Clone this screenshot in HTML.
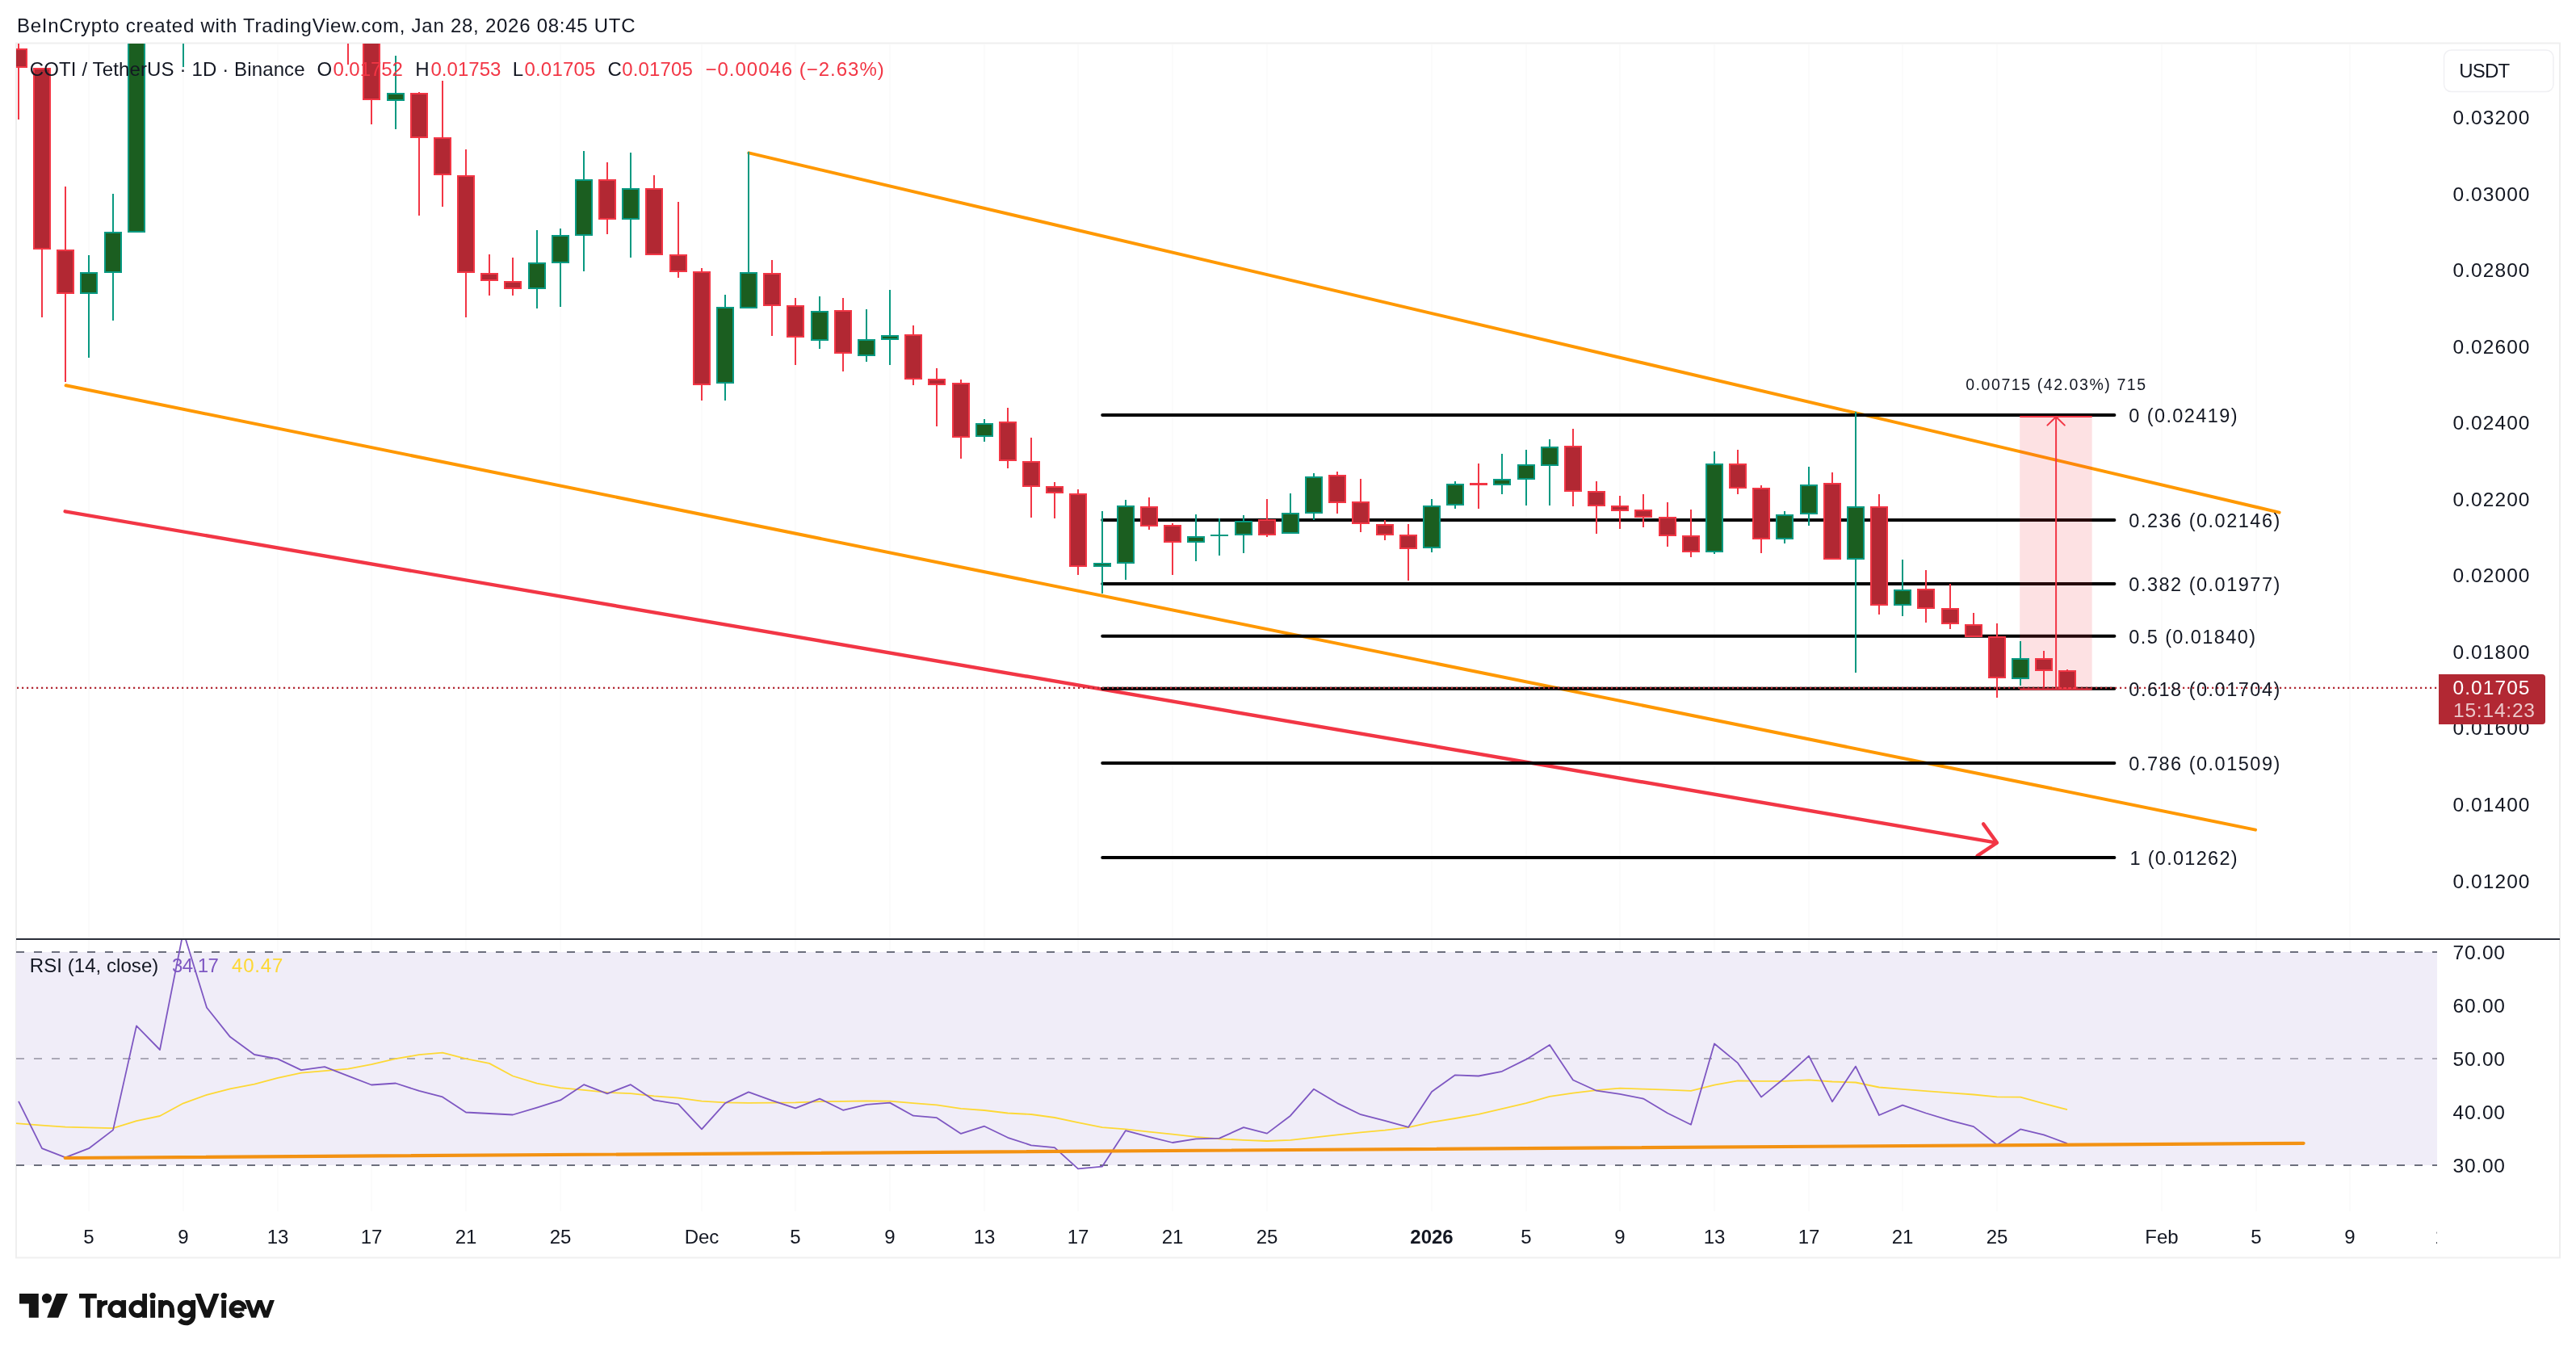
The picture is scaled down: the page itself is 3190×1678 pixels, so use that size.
<!DOCTYPE html>
<html><head><meta charset="utf-8"><title>COTI chart</title>
<style>
html,body{margin:0;padding:0;background:#fff;}
body{width:3190px;height:1678px;overflow:hidden;font-family:"Liberation Sans",sans-serif;}
svg{display:block;will-change:transform;transform:translateZ(0)}
svg text{font-family:"Liberation Sans",sans-serif;white-space:pre}
</style></head><body>
<svg width="3190" height="1678" viewBox="0 0 3190 1678">
<defs>
<clipPath id="main"><rect x="20" y="54" width="2998" height="1108"/></clipPath>
<clipPath id="rsi"><rect x="20" y="1164" width="2998" height="336"/></clipPath>
<clipPath id="taxis"><rect x="20" y="1500" width="2998" height="58"/></clipPath>
</defs>
<rect width="3190" height="1678" fill="#ffffff"/>
<rect x="20" y="53.5" width="3150" height="1504" fill="none" stroke="#efefef" stroke-width="2"/>
<g stroke="#fafafa" stroke-width="1.4">
<line x1="110.0" y1="55" x2="110.0" y2="1500"/>
<line x1="227.0" y1="55" x2="227.0" y2="1500"/>
<line x1="344.0" y1="55" x2="344.0" y2="1500"/>
<line x1="460.0" y1="55" x2="460.0" y2="1500"/>
<line x1="577.0" y1="55" x2="577.0" y2="1500"/>
<line x1="694.0" y1="55" x2="694.0" y2="1500"/>
<line x1="869.0" y1="55" x2="869.0" y2="1500"/>
<line x1="985.0" y1="55" x2="985.0" y2="1500"/>
<line x1="1102.0" y1="55" x2="1102.0" y2="1500"/>
<line x1="1219.0" y1="55" x2="1219.0" y2="1500"/>
<line x1="1335.0" y1="55" x2="1335.0" y2="1500"/>
<line x1="1452.0" y1="55" x2="1452.0" y2="1500"/>
<line x1="1569.0" y1="55" x2="1569.0" y2="1500"/>
<line x1="1773.0" y1="55" x2="1773.0" y2="1500"/>
<line x1="1890.0" y1="55" x2="1890.0" y2="1500"/>
<line x1="2006.0" y1="55" x2="2006.0" y2="1500"/>
<line x1="2123.0" y1="55" x2="2123.0" y2="1500"/>
<line x1="2240.0" y1="55" x2="2240.0" y2="1500"/>
<line x1="2356.0" y1="55" x2="2356.0" y2="1500"/>
<line x1="2473.0" y1="55" x2="2473.0" y2="1500"/>
<line x1="2677.0" y1="55" x2="2677.0" y2="1500"/>
<line x1="2794.0" y1="55" x2="2794.0" y2="1500"/>
<line x1="2910.0" y1="55" x2="2910.0" y2="1500"/>
</g>
<rect x="20" y="1179" width="2998" height="264" fill="#f0edf8"/>
<g stroke-width="2" stroke-dasharray="10 12" fill="none">
<line x1="20" y1="1179" x2="3018" y2="1179" stroke="#6c6f7d"/>
<line x1="20" y1="1311" x2="3018" y2="1311" stroke="#aaa8b6"/>
<line x1="20" y1="1443" x2="3018" y2="1443" stroke="#6c6f7d"/>
</g>
<g clip-path="url(#rsi)" fill="none" stroke-linejoin="round">
<polyline points="20,1391.2 23.0,1391.4 52.0,1393.7 81.0,1395.6 110.0,1396.4 140.0,1397.1 169.0,1388.2 198.0,1382 227.0,1366.3 256.0,1355.9 285.0,1348.4 315.0,1342.7 344.0,1334.8 373.0,1328.6 402.0,1326.1 431.0,1323.6 460.0,1318.1 490.0,1311.2 519.0,1306.2 548.0,1303.7 577.0,1311.2 606.0,1316.9 635.0,1332.5 665.0,1341.7 694.0,1347.2 723.0,1349.9 752.0,1352.9 781.0,1354.2 810.0,1357.4 840.0,1359.6 869.0,1363.6 898.0,1365.3 927.0,1365.8 956.0,1365.6 985.0,1365.3 1015.0,1364.1 1044.0,1363.9 1073.0,1363.4 1102.0,1363.6 1131.0,1366.1 1160.0,1368.3 1190.0,1372.8 1219.0,1375 1248.0,1378.5 1277.0,1380 1306.0,1384 1335.0,1390.2 1365.0,1396.1 1394.0,1398.4 1423.0,1401.6 1452.0,1404.6 1481.0,1407.8 1510.0,1410.3 1540.0,1411.8 1569.0,1413 1598.0,1411.8 1627.0,1408.6 1656.0,1405.3 1685.0,1402.4 1715.0,1399.6 1744.0,1396.1 1773.0,1389.7 1802.0,1385 1831.0,1379.8 1860.0,1373.2 1890.0,1366.1 1919.0,1357.9 1948.0,1353.7 1977.0,1350.2 2006.0,1347.7 2035.0,1348.7 2065.0,1349.7 2094.0,1350.9 2123.0,1343.7 2152.0,1338.3 2181.0,1338.8 2210.0,1338.8 2240.0,1337.3 2269.0,1339.5 2298.0,1340.5 2327.0,1346.5 2356.0,1348.9 2385.0,1351.2 2415.0,1353.4 2444.0,1355.5 2473.0,1358.4 2502.0,1358.7 2531.0,1366.6 2560.0,1374.2" stroke="#fdd835" stroke-width="1.8"/>
<polyline points="23.0,1363.9 52.0,1422.2 81.0,1433.4 110.0,1422.2 140.0,1399.4 169.0,1270.4 198.0,1300 227.0,1153.7 256.0,1247.8 285.0,1284.1 315.0,1306 344.0,1311.4 373.0,1325.1 402.0,1321.1 431.0,1332.3 460.0,1343.5 490.0,1341.5 519.0,1350.9 548.0,1358.4 577.0,1377.5 606.0,1379 635.0,1380.5 665.0,1371.6 694.0,1362.4 723.0,1343.2 752.0,1354.4 781.0,1343.2 810.0,1362.4 840.0,1367.3 869.0,1398.4 898.0,1366.1 927.0,1352.4 956.0,1362.9 985.0,1372.3 1015.0,1360.6 1044.0,1374.8 1073.0,1367.8 1102.0,1365.6 1131.0,1381.7 1160.0,1384.2 1190.0,1403.9 1219.0,1394.7 1248.0,1408.8 1277.0,1418.3 1306.0,1421.2 1335.0,1447.3 1365.0,1444.6 1394.0,1400.1 1423.0,1407.8 1452.0,1415 1481.0,1410.3 1510.0,1409.6 1540.0,1396.1 1569.0,1403.6 1598.0,1381.7 1627.0,1348.7 1656.0,1366.1 1685.0,1380.2 1715.0,1387.9 1744.0,1395.9 1773.0,1351.9 1802.0,1331.3 1831.0,1332.5 1860.0,1326.8 1890.0,1311.9 1919.0,1294 1948.0,1337.5 1977.0,1350.7 2006.0,1354.9 2035.0,1360.6 2065.0,1378.5 2094.0,1392.7 2123.0,1292.5 2152.0,1316.4 2181.0,1358.6 2210.0,1335 2240.0,1307.7 2269.0,1364.3 2298.0,1320.6 2327.0,1381 2356.0,1368.6 2385.0,1378.5 2415.0,1387.7 2444.0,1395.1 2473.0,1417.8 2502.0,1398.4 2531.0,1405.3 2560.0,1416.1" stroke="#7e57c2" stroke-width="1.8"/>
<line x1="80.7" y1="1434" x2="2852.6" y2="1415.8" stroke="#f39213" stroke-width="4.2" stroke-linecap="round"/>
</g>
<rect x="20" y="1162" width="3150" height="2" fill="#2a2e39"/>
<g clip-path="url(#main)">
<g stroke="#ff9800" stroke-width="4" stroke-linecap="round" fill="none">
<line x1="927.3" y1="189.4" x2="2822.6" y2="634.6"/>
<line x1="81.6" y1="477.3" x2="2793" y2="1027.6"/>
</g>
<g stroke="#f23645" stroke-width="4.4" stroke-linecap="round" stroke-linejoin="round" fill="none">
<line x1="80.6" y1="633.3" x2="2472.4" y2="1043.6"/>
<polyline points="2456.1,1020.4 2472.9,1043.6 2448.6,1059.8"/>
</g>
<g stroke="#000000" stroke-width="4" stroke-linecap="round">
<line x1="1365.2" y1="514" x2="2618.4" y2="514"/>
<line x1="1365.2" y1="644" x2="2618.4" y2="644"/>
<line x1="1365.2" y1="722.9" x2="2618.4" y2="722.9"/>
<line x1="1365.2" y1="787.8" x2="2618.4" y2="787.8"/>
<line x1="1365.2" y1="852.8" x2="2618.4" y2="852.8"/>
<line x1="1365.2" y1="945" x2="2618.4" y2="945"/>
<line x1="1365.2" y1="1061.9" x2="2618.4" y2="1061.9"/>
</g>
<rect x="2501.2" y="515" width="89.5" height="339" fill="#f23645" fill-opacity="0.15"/>
<g stroke="#f23645" stroke-width="2" fill="none">
<line x1="2501.2" y1="516" x2="2590.7" y2="516"/>
<line x1="2501.2" y1="853.6" x2="2590.7" y2="853.6"/>
<line x1="2546.1" y1="516" x2="2546.1" y2="853.6"/>
<polyline points="2535.4,526.6 2546.1,516.2 2556.8,526.6" stroke-linecap="round"/>
</g>
<g shape-rendering="crispEdges">
<rect x="22" y="40" width="2" height="108" fill="#f23645"/>
<rect x="12" y="60" width="22" height="24" fill="#f23645"/>
<rect x="14" y="62" width="18" height="20" fill="#b22833"/>
<rect x="51" y="84" width="2" height="309" fill="#f23645"/>
<rect x="41" y="84" width="22" height="225" fill="#f23645"/>
<rect x="43" y="86" width="18" height="221" fill="#b22833"/>
<rect x="80" y="231" width="2" height="242" fill="#f23645"/>
<rect x="70" y="309" width="22" height="55" fill="#f23645"/>
<rect x="72" y="311" width="18" height="51" fill="#b22833"/>
<rect x="109" y="316" width="2" height="127" fill="#089981"/>
<rect x="99" y="337" width="22" height="27" fill="#089981"/>
<rect x="101" y="339" width="18" height="23" fill="#1b5e20"/>
<rect x="139" y="240" width="2" height="157" fill="#089981"/>
<rect x="129" y="287" width="22" height="51" fill="#089981"/>
<rect x="131" y="289" width="18" height="47" fill="#1b5e20"/>
<rect x="168" y="20" width="2" height="268" fill="#089981"/>
<rect x="158" y="20" width="22" height="268" fill="#089981"/>
<rect x="160" y="22" width="18" height="264" fill="#1b5e20"/>
<rect x="226" y="20" width="2" height="63" fill="#089981"/>
<rect x="216" y="20" width="22" height="20" fill="#089981"/>
<rect x="218" y="22" width="18" height="16" fill="#1b5e20"/>
<rect x="430" y="20" width="2" height="60" fill="#f23645"/>
<rect x="420" y="20" width="22" height="20" fill="#f23645"/>
<rect x="422" y="22" width="18" height="16" fill="#b22833"/>
<rect x="459" y="20" width="2" height="134" fill="#f23645"/>
<rect x="449" y="20" width="22" height="104" fill="#f23645"/>
<rect x="451" y="22" width="18" height="100" fill="#b22833"/>
<rect x="489" y="69" width="2" height="91" fill="#089981"/>
<rect x="479" y="115" width="22" height="10" fill="#089981"/>
<rect x="481" y="117" width="18" height="6" fill="#1b5e20"/>
<rect x="518" y="114" width="2" height="153" fill="#f23645"/>
<rect x="508" y="115" width="22" height="56" fill="#f23645"/>
<rect x="510" y="117" width="18" height="52" fill="#b22833"/>
<rect x="547" y="100" width="2" height="156" fill="#f23645"/>
<rect x="537" y="170" width="22" height="47" fill="#f23645"/>
<rect x="539" y="172" width="18" height="43" fill="#b22833"/>
<rect x="576" y="185" width="2" height="208" fill="#f23645"/>
<rect x="566" y="217" width="22" height="121" fill="#f23645"/>
<rect x="568" y="219" width="18" height="117" fill="#b22833"/>
<rect x="605" y="315" width="2" height="51" fill="#f23645"/>
<rect x="595" y="338" width="22" height="10" fill="#f23645"/>
<rect x="597" y="340" width="18" height="6" fill="#b22833"/>
<rect x="634" y="319" width="2" height="47" fill="#f23645"/>
<rect x="624" y="348" width="22" height="10" fill="#f23645"/>
<rect x="626" y="350" width="18" height="6" fill="#b22833"/>
<rect x="664" y="285" width="2" height="97" fill="#089981"/>
<rect x="654" y="325" width="22" height="33" fill="#089981"/>
<rect x="656" y="327" width="18" height="29" fill="#1b5e20"/>
<rect x="693" y="283" width="2" height="97" fill="#089981"/>
<rect x="683" y="291" width="22" height="35" fill="#089981"/>
<rect x="685" y="293" width="18" height="31" fill="#1b5e20"/>
<rect x="722" y="187" width="2" height="149" fill="#089981"/>
<rect x="712" y="222" width="22" height="70" fill="#089981"/>
<rect x="714" y="224" width="18" height="66" fill="#1b5e20"/>
<rect x="751" y="201" width="2" height="89" fill="#f23645"/>
<rect x="741" y="222" width="22" height="50" fill="#f23645"/>
<rect x="743" y="224" width="18" height="46" fill="#b22833"/>
<rect x="780" y="189" width="2" height="130" fill="#089981"/>
<rect x="770" y="233" width="22" height="39" fill="#089981"/>
<rect x="772" y="235" width="18" height="35" fill="#1b5e20"/>
<rect x="809" y="217" width="2" height="99" fill="#f23645"/>
<rect x="799" y="233" width="22" height="83" fill="#f23645"/>
<rect x="801" y="235" width="18" height="79" fill="#b22833"/>
<rect x="839" y="250" width="2" height="94" fill="#f23645"/>
<rect x="829" y="315" width="22" height="22" fill="#f23645"/>
<rect x="831" y="317" width="18" height="18" fill="#b22833"/>
<rect x="868" y="332" width="2" height="164" fill="#f23645"/>
<rect x="858" y="336" width="22" height="141" fill="#f23645"/>
<rect x="860" y="338" width="18" height="137" fill="#b22833"/>
<rect x="897" y="365" width="2" height="131" fill="#089981"/>
<rect x="887" y="380" width="22" height="95" fill="#089981"/>
<rect x="889" y="382" width="18" height="91" fill="#1b5e20"/>
<rect x="926" y="188" width="2" height="194" fill="#089981"/>
<rect x="916" y="337" width="22" height="45" fill="#089981"/>
<rect x="918" y="339" width="18" height="41" fill="#1b5e20"/>
<rect x="955" y="322" width="2" height="94" fill="#f23645"/>
<rect x="945" y="338" width="22" height="41" fill="#f23645"/>
<rect x="947" y="340" width="18" height="37" fill="#b22833"/>
<rect x="984" y="369" width="2" height="83" fill="#f23645"/>
<rect x="974" y="378" width="22" height="40" fill="#f23645"/>
<rect x="976" y="380" width="18" height="36" fill="#b22833"/>
<rect x="1014" y="367" width="2" height="65" fill="#089981"/>
<rect x="1004" y="385" width="22" height="37" fill="#089981"/>
<rect x="1006" y="387" width="18" height="33" fill="#1b5e20"/>
<rect x="1043" y="369" width="2" height="91" fill="#f23645"/>
<rect x="1033" y="384" width="22" height="54" fill="#f23645"/>
<rect x="1035" y="386" width="18" height="50" fill="#b22833"/>
<rect x="1072" y="383" width="2" height="65" fill="#089981"/>
<rect x="1062" y="420" width="22" height="21" fill="#089981"/>
<rect x="1064" y="422" width="18" height="17" fill="#1b5e20"/>
<rect x="1101" y="359" width="2" height="93" fill="#089981"/>
<rect x="1091" y="415" width="22" height="6" fill="#089981"/>
<rect x="1093" y="417" width="18" height="2" fill="#1b5e20"/>
<rect x="1130" y="403" width="2" height="74" fill="#f23645"/>
<rect x="1120" y="414" width="22" height="56" fill="#f23645"/>
<rect x="1122" y="416" width="18" height="52" fill="#b22833"/>
<rect x="1159" y="456" width="2" height="72" fill="#f23645"/>
<rect x="1149" y="469" width="22" height="8" fill="#f23645"/>
<rect x="1151" y="471" width="18" height="4" fill="#b22833"/>
<rect x="1189" y="470" width="2" height="98" fill="#f23645"/>
<rect x="1179" y="474" width="22" height="68" fill="#f23645"/>
<rect x="1181" y="476" width="18" height="64" fill="#b22833"/>
<rect x="1218" y="519" width="2" height="28" fill="#089981"/>
<rect x="1208" y="524" width="22" height="17" fill="#089981"/>
<rect x="1210" y="526" width="18" height="13" fill="#1b5e20"/>
<rect x="1247" y="505" width="2" height="75" fill="#f23645"/>
<rect x="1237" y="522" width="22" height="49" fill="#f23645"/>
<rect x="1239" y="524" width="18" height="45" fill="#b22833"/>
<rect x="1276" y="542" width="2" height="99" fill="#f23645"/>
<rect x="1266" y="571" width="22" height="32" fill="#f23645"/>
<rect x="1268" y="573" width="18" height="28" fill="#b22833"/>
<rect x="1305" y="597" width="2" height="45" fill="#f23645"/>
<rect x="1295" y="602" width="22" height="9" fill="#f23645"/>
<rect x="1297" y="604" width="18" height="5" fill="#b22833"/>
<rect x="1334" y="606" width="2" height="106" fill="#f23645"/>
<rect x="1324" y="611" width="22" height="91" fill="#f23645"/>
<rect x="1326" y="613" width="18" height="87" fill="#b22833"/>
<rect x="1364" y="633" width="2" height="102" fill="#089981"/>
<rect x="1354" y="697" width="22" height="5" fill="#089981"/>
<rect x="1356" y="699" width="18" height="1" fill="#1b5e20"/>
<rect x="1393" y="619" width="2" height="99" fill="#089981"/>
<rect x="1383" y="626" width="22" height="72" fill="#089981"/>
<rect x="1385" y="628" width="18" height="68" fill="#1b5e20"/>
<rect x="1422" y="616" width="2" height="40" fill="#f23645"/>
<rect x="1412" y="627" width="22" height="25" fill="#f23645"/>
<rect x="1414" y="629" width="18" height="21" fill="#b22833"/>
<rect x="1451" y="648" width="2" height="64" fill="#f23645"/>
<rect x="1441" y="650" width="22" height="22" fill="#f23645"/>
<rect x="1443" y="652" width="18" height="18" fill="#b22833"/>
<rect x="1480" y="637" width="2" height="58" fill="#089981"/>
<rect x="1470" y="664" width="22" height="8" fill="#089981"/>
<rect x="1472" y="666" width="18" height="4" fill="#1b5e20"/>
<rect x="1509" y="642" width="2" height="46" fill="#089981"/>
<rect x="1499" y="662" width="22" height="2" fill="#089981"/>
<rect x="1539" y="638" width="2" height="47" fill="#089981"/>
<rect x="1529" y="645" width="22" height="18" fill="#089981"/>
<rect x="1531" y="647" width="18" height="14" fill="#1b5e20"/>
<rect x="1568" y="618" width="2" height="47" fill="#f23645"/>
<rect x="1558" y="643" width="22" height="20" fill="#f23645"/>
<rect x="1560" y="645" width="18" height="16" fill="#b22833"/>
<rect x="1597" y="611" width="2" height="50" fill="#089981"/>
<rect x="1587" y="635" width="22" height="26" fill="#089981"/>
<rect x="1589" y="637" width="18" height="22" fill="#1b5e20"/>
<rect x="1626" y="586" width="2" height="58" fill="#089981"/>
<rect x="1616" y="590" width="22" height="46" fill="#089981"/>
<rect x="1618" y="592" width="18" height="42" fill="#1b5e20"/>
<rect x="1655" y="584" width="2" height="52" fill="#f23645"/>
<rect x="1645" y="588" width="22" height="35" fill="#f23645"/>
<rect x="1647" y="590" width="18" height="31" fill="#b22833"/>
<rect x="1684" y="593" width="2" height="66" fill="#f23645"/>
<rect x="1674" y="621" width="22" height="28" fill="#f23645"/>
<rect x="1676" y="623" width="18" height="24" fill="#b22833"/>
<rect x="1714" y="644" width="2" height="25" fill="#f23645"/>
<rect x="1704" y="649" width="22" height="14" fill="#f23645"/>
<rect x="1706" y="651" width="18" height="10" fill="#b22833"/>
<rect x="1743" y="649" width="2" height="70" fill="#f23645"/>
<rect x="1733" y="662" width="22" height="18" fill="#f23645"/>
<rect x="1735" y="664" width="18" height="14" fill="#b22833"/>
<rect x="1772" y="618" width="2" height="66" fill="#089981"/>
<rect x="1762" y="626" width="22" height="53" fill="#089981"/>
<rect x="1764" y="628" width="18" height="49" fill="#1b5e20"/>
<rect x="1801" y="596" width="2" height="34" fill="#089981"/>
<rect x="1791" y="599" width="22" height="27" fill="#089981"/>
<rect x="1793" y="601" width="18" height="23" fill="#1b5e20"/>
<rect x="1830" y="574" width="2" height="56" fill="#f23645"/>
<rect x="1820" y="598" width="22" height="3" fill="#f23645"/>
<rect x="1859" y="562" width="2" height="50" fill="#089981"/>
<rect x="1849" y="593" width="22" height="8" fill="#089981"/>
<rect x="1851" y="595" width="18" height="4" fill="#1b5e20"/>
<rect x="1889" y="557" width="2" height="69" fill="#089981"/>
<rect x="1879" y="575" width="22" height="19" fill="#089981"/>
<rect x="1881" y="577" width="18" height="15" fill="#1b5e20"/>
<rect x="1918" y="544" width="2" height="82" fill="#089981"/>
<rect x="1908" y="553" width="22" height="24" fill="#089981"/>
<rect x="1910" y="555" width="18" height="20" fill="#1b5e20"/>
<rect x="1947" y="531" width="2" height="96" fill="#f23645"/>
<rect x="1937" y="552" width="22" height="57" fill="#f23645"/>
<rect x="1939" y="554" width="18" height="53" fill="#b22833"/>
<rect x="1976" y="596" width="2" height="65" fill="#f23645"/>
<rect x="1966" y="608" width="22" height="19" fill="#f23645"/>
<rect x="1968" y="610" width="18" height="15" fill="#b22833"/>
<rect x="2005" y="614" width="2" height="41" fill="#f23645"/>
<rect x="1995" y="626" width="22" height="7" fill="#f23645"/>
<rect x="1997" y="628" width="18" height="3" fill="#b22833"/>
<rect x="2034" y="612" width="2" height="41" fill="#f23645"/>
<rect x="2024" y="631" width="22" height="10" fill="#f23645"/>
<rect x="2026" y="633" width="18" height="6" fill="#b22833"/>
<rect x="2064" y="622" width="2" height="55" fill="#f23645"/>
<rect x="2054" y="640" width="22" height="24" fill="#f23645"/>
<rect x="2056" y="642" width="18" height="20" fill="#b22833"/>
<rect x="2093" y="631" width="2" height="59" fill="#f23645"/>
<rect x="2083" y="663" width="22" height="21" fill="#f23645"/>
<rect x="2085" y="665" width="18" height="17" fill="#b22833"/>
<rect x="2122" y="559" width="2" height="127" fill="#089981"/>
<rect x="2112" y="574" width="22" height="110" fill="#089981"/>
<rect x="2114" y="576" width="18" height="106" fill="#1b5e20"/>
<rect x="2151" y="557" width="2" height="55" fill="#f23645"/>
<rect x="2141" y="574" width="22" height="31" fill="#f23645"/>
<rect x="2143" y="576" width="18" height="27" fill="#b22833"/>
<rect x="2180" y="601" width="2" height="84" fill="#f23645"/>
<rect x="2170" y="604" width="22" height="64" fill="#f23645"/>
<rect x="2172" y="606" width="18" height="60" fill="#b22833"/>
<rect x="2209" y="633" width="2" height="40" fill="#089981"/>
<rect x="2199" y="637" width="22" height="31" fill="#089981"/>
<rect x="2201" y="639" width="18" height="27" fill="#1b5e20"/>
<rect x="2239" y="578" width="2" height="73" fill="#089981"/>
<rect x="2229" y="600" width="22" height="37" fill="#089981"/>
<rect x="2231" y="602" width="18" height="33" fill="#1b5e20"/>
<rect x="2268" y="585" width="2" height="108" fill="#f23645"/>
<rect x="2258" y="598" width="22" height="95" fill="#f23645"/>
<rect x="2260" y="600" width="18" height="91" fill="#b22833"/>
<rect x="2297" y="510" width="2" height="323" fill="#089981"/>
<rect x="2287" y="627" width="22" height="66" fill="#089981"/>
<rect x="2289" y="629" width="18" height="62" fill="#1b5e20"/>
<rect x="2326" y="612" width="2" height="149" fill="#f23645"/>
<rect x="2316" y="627" width="22" height="123" fill="#f23645"/>
<rect x="2318" y="629" width="18" height="119" fill="#b22833"/>
<rect x="2355" y="693" width="2" height="70" fill="#089981"/>
<rect x="2345" y="730" width="22" height="20" fill="#089981"/>
<rect x="2347" y="732" width="18" height="16" fill="#1b5e20"/>
<rect x="2384" y="706" width="2" height="65" fill="#f23645"/>
<rect x="2374" y="729" width="22" height="25" fill="#f23645"/>
<rect x="2376" y="731" width="18" height="21" fill="#b22833"/>
<rect x="2414" y="723" width="2" height="56" fill="#f23645"/>
<rect x="2404" y="753" width="22" height="20" fill="#f23645"/>
<rect x="2406" y="755" width="18" height="16" fill="#b22833"/>
<rect x="2443" y="759" width="2" height="30" fill="#f23645"/>
<rect x="2433" y="773" width="22" height="16" fill="#f23645"/>
<rect x="2435" y="775" width="18" height="12" fill="#b22833"/>
<rect x="2472" y="772" width="2" height="92" fill="#f23645"/>
<rect x="2462" y="788" width="22" height="52" fill="#f23645"/>
<rect x="2464" y="790" width="18" height="48" fill="#b22833"/>
<rect x="2501" y="794" width="2" height="55" fill="#089981"/>
<rect x="2491" y="815" width="22" height="26" fill="#089981"/>
<rect x="2493" y="817" width="18" height="22" fill="#1b5e20"/>
<rect x="2530" y="806" width="2" height="46" fill="#f23645"/>
<rect x="2520" y="815" width="22" height="16" fill="#f23645"/>
<rect x="2522" y="817" width="18" height="12" fill="#b22833"/>
<rect x="2559" y="829" width="2" height="24" fill="#f23645"/>
<rect x="2549" y="830" width="22" height="23" fill="#f23645"/>
<rect x="2551" y="832" width="18" height="19" fill="#b22833"/>
</g>
</g>
<line x1="21" y1="851.8" x2="3018" y2="851.8" stroke="#b22833" stroke-width="2.2" stroke-dasharray="2.2 3.8"/>
<text x="2434.2" y="483.3" font-size="19.5" fill="#131722" textLength="222.9" lengthAdjust="spacing" >0.00715 (42.03%) 715</text>
<text x="2636.3" y="523.0" font-size="23.5" fill="#131722" textLength="134.3" lengthAdjust="spacing" >0 (0.02419)</text>
<text x="2636.3" y="653.0" font-size="23.5" fill="#131722" textLength="187" lengthAdjust="spacing" >0.236 (0.02146)</text>
<text x="2636.3" y="731.9" font-size="23.5" fill="#131722" textLength="187" lengthAdjust="spacing" >0.382 (0.01977)</text>
<text x="2636.3" y="796.8" font-size="23.5" fill="#131722" textLength="156.7" lengthAdjust="spacing" >0.5 (0.01840)</text>
<text x="2636.3" y="861.8" font-size="23.5" fill="#131722" textLength="187" lengthAdjust="spacing" >0.618 (0.01704)</text>
<text x="2636.3" y="954.0" font-size="23.5" fill="#131722" textLength="187" lengthAdjust="spacing" >0.786 (0.01509)</text>
<text x="2637.6" y="1070.9" font-size="23.5" fill="#131722" textLength="133" lengthAdjust="spacing" >1 (0.01262)</text>
<text x="3037.5" y="154.0" font-size="24.5" fill="#131722" textLength="95" lengthAdjust="spacing" >0.03200</text>
<text x="3037.5" y="248.5" font-size="24.5" fill="#131722" textLength="95" lengthAdjust="spacing" >0.03000</text>
<text x="3037.5" y="343.1" font-size="24.5" fill="#131722" textLength="95" lengthAdjust="spacing" >0.02800</text>
<text x="3037.5" y="437.6" font-size="24.5" fill="#131722" textLength="95" lengthAdjust="spacing" >0.02600</text>
<text x="3037.5" y="532.2" font-size="24.5" fill="#131722" textLength="95" lengthAdjust="spacing" >0.02400</text>
<text x="3037.5" y="626.8" font-size="24.5" fill="#131722" textLength="95" lengthAdjust="spacing" >0.02200</text>
<text x="3037.5" y="721.3" font-size="24.5" fill="#131722" textLength="95" lengthAdjust="spacing" >0.02000</text>
<text x="3037.5" y="815.9" font-size="24.5" fill="#131722" textLength="95" lengthAdjust="spacing" >0.01800</text>
<text x="3037.5" y="910.4" font-size="24.5" fill="#131722" textLength="95" lengthAdjust="spacing" >0.01600</text>
<text x="3037.5" y="1004.9" font-size="24.5" fill="#131722" textLength="95" lengthAdjust="spacing" >0.01400</text>
<text x="3037.5" y="1099.5" font-size="24.5" fill="#131722" textLength="95" lengthAdjust="spacing" >0.01200</text>
<text x="3037.5" y="1188.4" font-size="24.5" fill="#131722" textLength="64.5" lengthAdjust="spacing" >70.00</text>
<text x="3037.5" y="1254.4" font-size="24.5" fill="#131722" textLength="64.5" lengthAdjust="spacing" >60.00</text>
<text x="3037.5" y="1320.3" font-size="24.5" fill="#131722" textLength="64.5" lengthAdjust="spacing" >50.00</text>
<text x="3037.5" y="1386.2" font-size="24.5" fill="#131722" textLength="64.5" lengthAdjust="spacing" >40.00</text>
<text x="3037.5" y="1452.2" font-size="24.5" fill="#131722" textLength="64.5" lengthAdjust="spacing" >30.00</text>
<rect x="3026.5" y="62" width="135.5" height="51.5" rx="9" ry="9" fill="#ffffff" stroke="#f0f0f3" stroke-width="1.5"/>
<text x="3045.2" y="96.4" font-size="24" fill="#131722" textLength="63" lengthAdjust="spacing" >USDT</text>
<path d="M3020,835 H3148 a4,4 0 0 1 4,4 V893 a4,4 0 0 1 -4,4 H3020 Z" fill="#b22833"/>
<text x="3037.5" y="860.3" font-size="24.5" fill="#ffffff" textLength="95" lengthAdjust="spacing" >0.01705</text>
<text x="3038" y="888.3" font-size="24.5" fill="#ffffff" textLength="101" lengthAdjust="spacing" fill-opacity="0.75">15:14:23</text>
<text x="21" y="40.2" font-size="24" fill="#131722" textLength="765.6" lengthAdjust="spacing" >BeInCrypto created with TradingView.com, Jan 28, 2026 08:45 UTC</text>
<text x="36.8" y="94" font-size="24" fill="#131722" textLength="340.8" lengthAdjust="spacing" >COTI / TetherUS · 1D · Binance</text>
<text x="392.5" y="94" font-size="24" fill="#131722" textLength="16.9" lengthAdjust="spacing" >O</text>
<text x="412.4" y="94" font-size="24" fill="#f23645" textLength="86.5" lengthAdjust="spacing" >0.01752</text>
<text x="514.3" y="94" font-size="24" fill="#131722" textLength="16.1" lengthAdjust="spacing" >H</text>
<text x="533.4" y="94" font-size="24" fill="#f23645" textLength="87" lengthAdjust="spacing" >0.01753</text>
<text x="634.8" y="94" font-size="24" fill="#131722" textLength="12.2" lengthAdjust="spacing" >L</text>
<text x="649.4" y="94" font-size="24" fill="#f23645" textLength="88" lengthAdjust="spacing" >0.01705</text>
<text x="752.5" y="94" font-size="24" fill="#131722" textLength="15" lengthAdjust="spacing" >C</text>
<text x="770.2" y="94" font-size="24" fill="#f23645" textLength="87.7" lengthAdjust="spacing" >0.01705</text>
<text x="873.5" y="94" font-size="24" fill="#f23645" textLength="221.2" lengthAdjust="spacing" >−0.00046 (−2.63%)</text>
<text x="36.8" y="1204.3" font-size="24" fill="#131722" textLength="159.5" lengthAdjust="spacing" >RSI (14, close)</text>
<text x="212.9" y="1204.3" font-size="24" fill="#7e57c2" textLength="57.9" lengthAdjust="spacing" >34.17</text>
<text x="287" y="1204.3" font-size="24" fill="#fdd835" textLength="63.3" lengthAdjust="spacing" >40.47</text>
<g clip-path="url(#taxis)">
<text x="110.0" y="1540.3" font-size="24" fill="#131722" text-anchor="middle" >5</text>
<text x="227.0" y="1540.3" font-size="24" fill="#131722" text-anchor="middle" >9</text>
<text x="344.0" y="1540.3" font-size="24" fill="#131722" text-anchor="middle" >13</text>
<text x="460.0" y="1540.3" font-size="24" fill="#131722" text-anchor="middle" >17</text>
<text x="577.0" y="1540.3" font-size="24" fill="#131722" text-anchor="middle" >21</text>
<text x="694.0" y="1540.3" font-size="24" fill="#131722" text-anchor="middle" >25</text>
<text x="869.0" y="1540.3" font-size="24" fill="#131722" text-anchor="middle" >Dec</text>
<text x="985.0" y="1540.3" font-size="24" fill="#131722" text-anchor="middle" >5</text>
<text x="1102.0" y="1540.3" font-size="24" fill="#131722" text-anchor="middle" >9</text>
<text x="1219.0" y="1540.3" font-size="24" fill="#131722" text-anchor="middle" >13</text>
<text x="1335.0" y="1540.3" font-size="24" fill="#131722" text-anchor="middle" >17</text>
<text x="1452.0" y="1540.3" font-size="24" fill="#131722" text-anchor="middle" >21</text>
<text x="1569.0" y="1540.3" font-size="24" fill="#131722" text-anchor="middle" >25</text>
<text x="1773.0" y="1540.3" font-size="24" fill="#131722" text-anchor="middle" font-weight="bold" >2026</text>
<text x="1890.0" y="1540.3" font-size="24" fill="#131722" text-anchor="middle" >5</text>
<text x="2006.0" y="1540.3" font-size="24" fill="#131722" text-anchor="middle" >9</text>
<text x="2123.0" y="1540.3" font-size="24" fill="#131722" text-anchor="middle" >13</text>
<text x="2240.0" y="1540.3" font-size="24" fill="#131722" text-anchor="middle" >17</text>
<text x="2356.0" y="1540.3" font-size="24" fill="#131722" text-anchor="middle" >21</text>
<text x="2473.0" y="1540.3" font-size="24" fill="#131722" text-anchor="middle" >25</text>
<text x="2677.0" y="1540.3" font-size="24" fill="#131722" text-anchor="middle" >Feb</text>
<text x="2794.0" y="1540.3" font-size="24" fill="#131722" text-anchor="middle" >5</text>
<text x="2910.0" y="1540.3" font-size="24" fill="#131722" text-anchor="middle" >9</text>
<text x="3028.5" y="1540.3" font-size="24" fill="#131722" text-anchor="middle" >13</text>
</g>
<g transform="translate(10 1590) scale(0.13587)" fill="#141414" stroke="none">
<path d="M103,88 H278 V308 H190 V180 H103 Z"/>
<circle cx="353" cy="132" r="45"/>
<path d="M440,88 H545 L458,308 H355 Z"/>
</g>
<defs><clipPath id="capclip"><rect x="1600" y="88" width="500" height="220"/></clipPath><clipPath id="xclip"><rect x="2100" y="148" width="400" height="160"/></clipPath></defs>
<g transform="translate(10 1590) scale(0.13587)" fill="none" stroke="#141414" stroke-width="43" stroke-linecap="butt" stroke-linejoin="miter">
<path d="M648,110 H808 M728,88 V308"/>
<path d="M833.5,308 V148 M833.5,236 A64,64 0 0 1 897,170 H906"/>
<circle cx="990" cy="228" r="60"/><path d="M1053.5,148 V308"/>
<circle cx="1181" cy="228" r="60"/><path d="M1244.5,88 V308"/>
<path d="M1318.5,148 V308"/>
<path d="M1391.5,148 V308 M1391.5,232 A51.25,63 0 0 1 1494,232 V308"/>
<circle cx="1625" cy="228" r="60"/><path d="M1687,148 V292 A64,64 0 0 1 1623,356 Q1590,356 1562,330"/>
<path d="M1966.5,148 V308"/>
<path d="M2139,270 A60,60 0 1 1 2155,228" /><path d="M2040,232 H2152" stroke-width="31"/>
</g>
<g transform="translate(10 1590) scale(0.13587)" fill="none" stroke="#141414" stroke-linejoin="miter" stroke-miterlimit="10">
<path clip-path="url(#capclip)" d="M1721,66 L1814,306 L1907,66" stroke-width="49"/>
<path clip-path="url(#xclip)" d="M2176,132 L2238,306 L2294,150 L2350,306 L2412,132" stroke-width="41"/>
</g>
<g transform="translate(10 1590) scale(0.13587)" fill="#141414"><circle cx="1318" cy="106" r="27"/><circle cx="1967" cy="106" r="27"/></g>
</svg></body></html>
